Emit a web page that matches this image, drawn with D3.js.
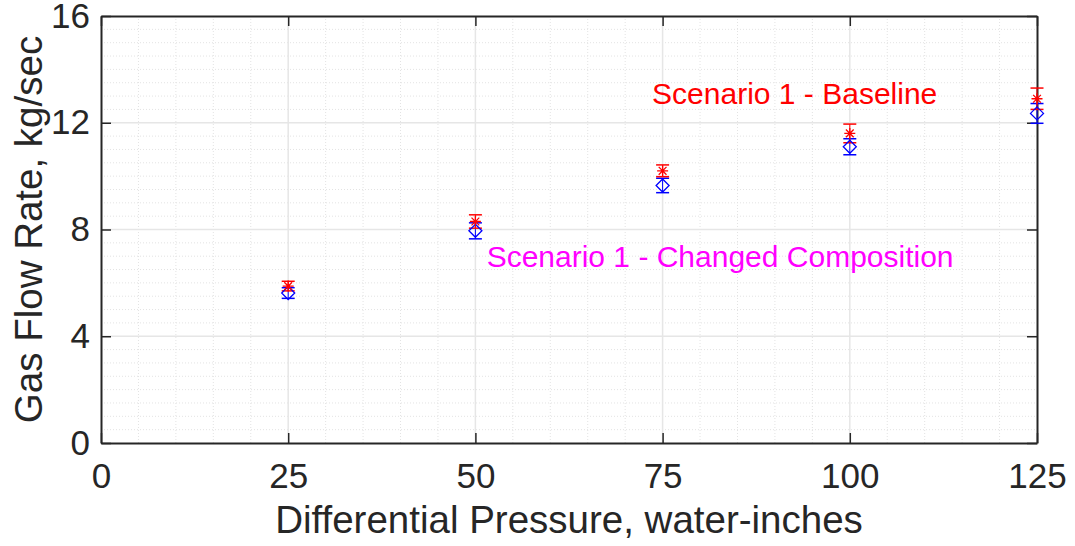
<!DOCTYPE html>
<html>
<head>
<meta charset="utf-8">
<script src="https://cdn.jsdelivr.net/npm/d3@7"></script>
<style>
  body { margin: 0; background: #fff; }
  text { font-family: "Liberation Sans", Arial, sans-serif; }
</style>
</head>
<body>
<div id="container"></div>
<script>
var width = 1075, height = 546;
var margin = {left: 101, right: 38, top: 16, bottom: 103};

// data
var pressure = [25, 50, 75, 100, 125];
var baseline = [5.88, 8.3, 10.2, 11.6, 12.9];
var baselineErr = [0.18, 0.25, 0.22, 0.35, 0.4];
var changed = [5.62, 7.95, 9.65, 11.1, 12.35];
var changedErr = [0.2, 0.3, 0.27, 0.3, 0.37];
var xTicks = [0, 25, 50, 75, 100, 125];
var yTicks = [0, 4, 8, 12, 16];

var plotW = width - margin.left - margin.right;
var plotH = height - margin.top - margin.bottom;

var svg = d3.select('#container').append('svg').attr('width', width).attr('height', height);
var g = svg.append('g').attr('transform', 'translate(' + margin.left + ',' + margin.top + ')');

var x = d3.scaleLinear().domain([0, 125]).range([0, plotW]);
var y = d3.scaleLinear().domain([0, 16]).range([plotH, 0]);

// minor grid
g.selectAll('.minx').data(d3.range(5, 125, 5).filter(function(d){ return d % 25 !== 0; }))
  .enter().append('line')
  .attr('x1', function(d){ return x(d); }).attr('x2', function(d){ return x(d); })
  .attr('y1', 0).attr('y2', plotH)
  .attr('stroke', '#e3e3e3').attr('stroke-dasharray', '1,2');
g.selectAll('.miny').data(d3.range(0.5, 16, 0.5).filter(function(d){ return d % 4 !== 0; }))
  .enter().append('line')
  .attr('y1', function(d){ return y(d); }).attr('y2', function(d){ return y(d); })
  .attr('x1', 0).attr('x2', plotW)
  .attr('stroke', '#e3e3e3').attr('stroke-dasharray', '1,2');

// major grid
g.selectAll('.gx').data(xTicks.slice(1, -1)).enter().append('line')
  .attr('x1', function(d){ return x(d); }).attr('x2', function(d){ return x(d); })
  .attr('y1', 0).attr('y2', plotH)
  .attr('stroke', '#e6e6e6').attr('stroke-width', 1.5);
g.selectAll('.gy').data(yTicks.slice(1, -1)).enter().append('line')
  .attr('y1', function(d){ return y(d); }).attr('y2', function(d){ return y(d); })
  .attr('x1', 0).attr('x2', plotW)
  .attr('stroke', '#e6e6e6').attr('stroke-width', 1.5);

// axes, ticks inward
var xAxis = d3.axisBottom(x).tickValues(xTicks).tickSizeInner(-10).tickSizeOuter(0).tickPadding(20);
var yAxis = d3.axisLeft(y).tickValues(yTicks).tickSizeInner(-10).tickSizeOuter(0).tickPadding(11);

var gx = g.append('g').attr('transform', 'translate(0,' + plotH + ')').call(xAxis);
var gy = g.append('g').call(yAxis);
g.append('g').call(d3.axisTop(x).tickValues(xTicks).tickSizeInner(-10).tickSizeOuter(0).tickFormat(''));
g.append('g').attr('transform', 'translate(' + plotW + ',0)')
  .call(d3.axisRight(y).tickValues(yTicks).tickSizeInner(-10).tickSizeOuter(0).tickFormat(''));

svg.selectAll('.domain').attr('stroke', '#262626').attr('stroke-width', 2);
svg.selectAll('.tick line').attr('stroke', '#262626').attr('stroke-width', 1.5);
svg.selectAll('.tick text').attr('fill', '#262626').style('font-size', '35px')
  .style('font-family', '"Liberation Sans", Arial, sans-serif');

// error bars
function errorBars(vals, errs, color, cls) {
  var grp = g.append('g').attr('class', cls);
  var cap = 6.5;
  pressure.forEach(function(p, i) {
    var cx = x(p), lo = y(vals[i] - errs[i]), hi = y(vals[i] + errs[i]);
    grp.append('line').attr('x1', cx).attr('x2', cx).attr('y1', lo).attr('y2', hi).attr('stroke', color);
    grp.append('line').attr('x1', cx - cap).attr('x2', cx + cap).attr('y1', lo).attr('y2', lo).attr('stroke', color).attr('stroke-width', 1.5);
    grp.append('line').attr('x1', cx - cap).attr('x2', cx + cap).attr('y1', hi).attr('y2', hi).attr('stroke', color).attr('stroke-width', 1.5);
  });
}
errorBars(changed, changedErr, '#0000ff', 'eb-changed');
errorBars(baseline, baselineErr, '#ff0000', 'eb-base');

// blue diamonds
g.selectAll('.dia').data(pressure).enter().append('path')
  .attr('d', function(d, i){
    var cx = x(d), cy = y(changed[i]), r = 6.5;
    return 'M' + cx + ',' + (cy - r) + 'L' + (cx + r) + ',' + cy + 'L' + cx + ',' + (cy + r) + 'L' + (cx - r) + ',' + cy + 'Z';
  })
  .attr('fill', 'none').attr('stroke', '#0000ff').attr('stroke-width', 1.3);

// red asterisks
g.selectAll('.ast').data(pressure).enter().append('path')
  .attr('d', function(d, i){
    var cx = x(d), cy = y(baseline[i]), r = 5.5;
    var s = '';
    [0, 45, 90, 135].forEach(function(a){
      var rad = a * Math.PI / 180, dx = r * Math.cos(rad), dy = r * Math.sin(rad);
      s += 'M' + (cx - dx) + ',' + (cy - dy) + 'L' + (cx + dx) + ',' + (cy + dy);
    });
    return s;
  })
  .attr('stroke', '#ff0000').attr('stroke-width', 1.3);

// annotations
g.append('text').attr('x', x(73.6)).attr('y', y(12.7)).attr('fill', '#ff0000')
  .style('font-size', '30px').text('Scenario 1 - Baseline');
g.append('text').attr('x', x(51.5)).attr('y', y(6.6)).attr('fill', '#ff00ff')
  .style('font-size', '30px').text('Scenario 1 - Changed Composition');

// axis labels
svg.append('text').attr('x', margin.left + plotW / 2).attr('y', 533)
  .attr('text-anchor', 'middle').attr('fill', '#262626').style('font-size', '38.5px')
  .text('Differential Pressure, water-inches');
svg.append('text').attr('transform', 'translate(42,' + (margin.top + plotH / 2) + ') rotate(-90)')
  .attr('text-anchor', 'middle').attr('fill', '#262626').style('font-size', '38.5px')
  .text('Gas Flow Rate, kg/sec');
</script>
</body>
</html>
